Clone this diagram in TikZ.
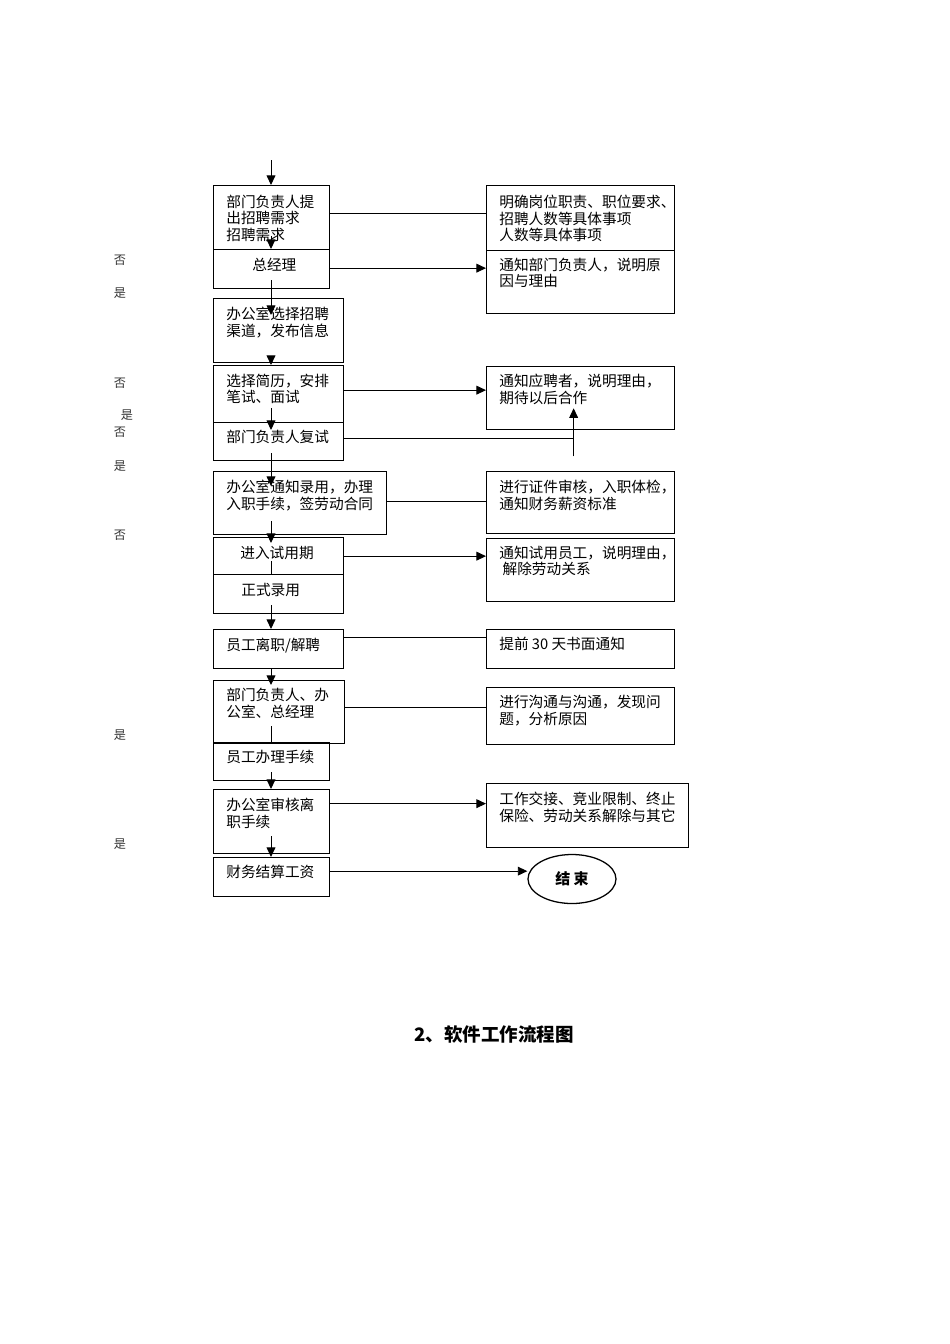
\documentclass[tikz,border=0pt]{standalone}
\usepackage{fontspec}
\setmainfont{Noto Sans CJK SC}
\usepackage{tikz}
\usetikzlibrary{calc,positioning,arrows.meta,shapes.geometric}
\newdimen\px
\px=0.6266pt
\tikzset{
	box/.style 2 args={draw, line width=0.8pt, anchor=north west, inner sep=0pt,
		minimum width=#1*\px, minimum height=#2*\px},
	txt/.style={anchor=north west, inner sep=0pt, align=left,
		font=\fontsize{9.2}{10.2}\selectfont},
	side/.style={inner sep=0pt, font=\fontsize{7.6}{8}\selectfont, text=black!80},
	link/.style={line width=0.6pt},
	arr/.style={line width=0.6pt, -{Triangle[length=6pt,width=5.5pt]}},
}

\begin{document}
\begin{tikzpicture}[x=0.6266pt, y=-0.6266pt]
	\useasboundingbox (0,0) rectangle (950,1344);
	\coordinate (entry) at (271,160);

	% main column
	\node[box={116}{64}] (b1) at (213,185) {};
	\node[txt] at ($(b1.north west)+(13,10)$) {部门负责人提\\出招聘需求\\招聘需求};
	\node[box={116}{39}] (b2) at (213,249) {};
	\node[txt] at ($(b2.north west)+(39,9)$) {总经理};
	\node[box={130}{64}] (b3) at (213,298) {};
	\node[txt] at ($(b3.north west)+(13,9)$) {办公室选择招聘\\渠道，发布信息};
	\node[box={130}{57}] (b4) at (213,365) {};
	\node[txt] at ($(b4.north west)+(13,9)$) {选择简历，安排\\笔试、面试};
	\node[box={130}{38}] (b5) at (213,422) {};
	\node[txt] at ($(b5.north west)+(13,8)$) {部门负责人复试};
	\node[box={173}{63}] (b6) at (213,471) {};
	\node[txt] at ($(b6.north west)+(13,9)$) {办公室通知录用，办理\\入职手续，签劳动合同};
	\node[box={130}{37}] (b7) at (213,537) {};
	\node[txt] at ($(b7.north west)+(27,9)$) {进入试用期};
	\node[box={130}{39}] (b8) at (213,574) {};
	\node[txt] at ($(b8.north west)+(28,9)$) {正式录用};
	\node[box={130}{39}] (b9) at (213,629) {};
	\node[txt] at ($(b9.north west)+(13,9)$) {员工离职/解聘};
	\node[box={131}{63}] (b10) at (213,680) {};
	\node[txt] at ($(b10.north west)+(13,8)$) {部门负责人、办\\公室、总经理};
	\node[box={116}{38}] (b11) at (213,742) {};
	\node[txt] at ($(b11.north west)+(13,8)$) {员工办理手续};
	\node[box={116}{64}] (b12) at (213,789) {};
	\node[txt] at ($(b12.north west)+(13,9)$) {办公室审核离\\职手续};
	\node[box={116}{39}] (b13) at (213,857) {};
	\node[txt] at ($(b13.north west)+(13,8)$) {财务结算工资};

	% right column
	\node[box={188}{65}] (r1) at (486,185) {};
	\node[txt] at ($(r1.north west)+(13,10)$) {明确岗位职责、职位要求、\\招聘人数等具体事项\\人数等具体事项};
	\node[box={188}{63}] (r2) at (486,250) {};
	\node[txt] at ($(r2.north west)+(13,8)$) {通知部门负责人，说明原\\因与理由};
	\node[box={188}{63}] (r3) at (486,366) {};
	\node[txt] at ($(r3.north west)+(13,8)$) {通知应聘者，说明理由，\\期待以后合作};
	\node[box={188}{62}] (r4) at (486,471) {};
	\node[txt] at ($(r4.north west)+(13,9)$) {进行证件审核，入职体检，\\通知财务薪资标准};
	\node[box={188}{63}] (r5) at (486,538) {};
	\node[txt] at ($(r5.north west)+(13,8)$) {通知试用员工，说明理由，\\\ 解除劳动关系};
	\node[box={188}{39}] (r6) at (486,629) {};
	\node[txt] at ($(r6.north west)+(13,8)$) {提前 30 天书面通知};
	\node[box={188}{57}] (r7) at (486,687) {};
	\node[txt] at ($(r7.north west)+(13,8)$) {进行沟通与沟通，发现问\\题，分析原因};
	\node[box={202}{64}] (r8) at (486,783) {};
	\node[txt] at ($(r8.north west)+(13,9)$) {工作交接、竞业限制、终止\\保险、劳动关系解除与其它};
	\node[draw, line width=0.8pt, ellipse, inner sep=0pt, minimum width=88*\px,
		minimum height=49*\px, font=\fontsize{9.4}{10.8}\selectfont\bfseries] (end) at (572,879) {结\ 束};

	% side labels
	\node[side] (n1) at (120,260) {否};
	\node[side] (y1) at (120,293) {是};
	\node[side] (n2) at (120,383) {否};
	\node[side] (y2) at (127,415) {是};
	\node[side] (n3) at (120,432) {否};
	\node[side] (y3) at (120,466) {是};
	\node[side] (n4) at (120,535) {否};
	\node[side] (y4) at (120,735) {是};
	\node[side] (y5) at (120,844) {是};

	% down the main column
	\draw[arr] (entry) -- (entry |- b1.north);
	\draw[arr] ($(b1.south -| entry)+(0,-14)$) -- (b2.north -| entry);
	\draw[arr] ($(b2.south -| entry)+(0,-9)$) -- ($(b3.north -| entry)+(0,17)$);
	\draw[arr] ($(b3.south -| entry)+(0,-6)$) -- (b4.north -| entry);
	\draw[arr] ($(b4.south -| entry)+(0,-15)$) -- ($(b5.north -| entry)+(0,8)$);
	\draw[arr] ($(b5.south -| entry)+(0,-8)$) -- ($(b6.north -| entry)+(0,15)$);
	\draw[arr] ($(b6.south -| entry)+(0,-14)$) -- ($(b7.north -| entry)+(0,6)$);
	\draw[link] ($(b7.south -| entry)+(0,-14)$) -- (b8.north -| entry);
	\draw[arr] ($(b8.south -| entry)+(0,-9)$) -- (b9.north -| entry);
	\draw[arr] (b9.south -| entry) -- ($(b10.north -| entry)+(0,5)$);
	\draw[link] ($(b10.south -| entry)+(0,-18)$) -- (b11.north -| entry);
	\draw[arr] ($(b11.south -| entry)+(0,-9)$) -- (b12.north -| entry);
	\draw[arr] ($(b12.south -| entry)+(0,-18)$) -- (b13.north -| entry);

	% across to the right column
	\draw[link] ($(b1.east)+(0,-4)$) -- ($(b1.east -| r1.west)+(0,-4)$);
	\draw[arr] ($(b2.east)+(0,-1)$) -- ($(b2.east -| r2.west)+(0,-1)$);
	\draw[arr] ($(b4.east)+(0,-4)$) -- ($(b4.east -| r3.west)+(0,-4)$);
	\coordinate (back) at ($(r3.south)+(-7,26)$);
	\draw[link] ($(b5.east)+(0,-3)$) -- ($(b5.east -| back)+(0,-3)$);
	\draw[arr] (back) -- ($(r3.south)+(-7,-22)$);
	\draw[link] ($(b6.east)+(0,-2)$) -- ($(b6.east -| r4.west)+(0,-2)$);
	\draw[arr] (b7.east) -- (b7.east -| r5.west);
	\draw[link] ($(b9.east)+(0,-12)$) -- ($(b9.east -| r6.west)+(0,-12)$);
	\draw[link] ($(b10.east)+(0,-5)$) -- ($(b10.east -| r7.west)+(0,-5)$);
	\draw[arr] ($(b12.east)+(0,-18)$) -- ($(b12.east -| r8.west)+(0,-18)$);
	\draw[arr] ($(b13.east)+(0,-6)$) -- ($(b13.east -| end.west)+(0,-6)$);

	\node[font=\fontsize{11.6}{13}\selectfont\bfseries] (title) at (494,1034) {2、软件工作流程图};
\end{tikzpicture}
\end{document}
